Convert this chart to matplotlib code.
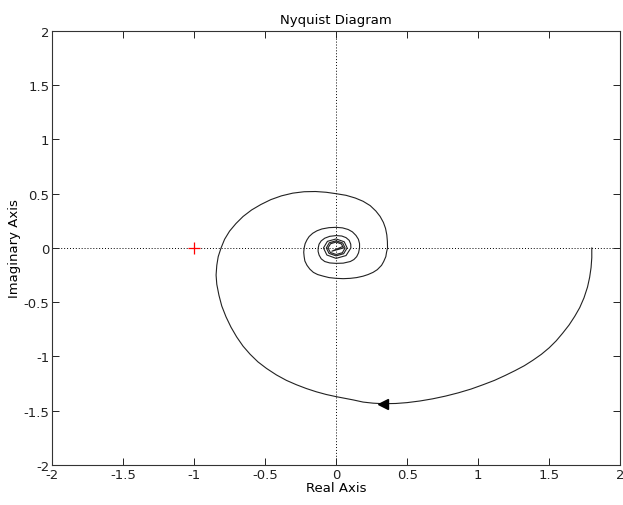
import matplotlib
matplotlib.use('Agg')
import matplotlib.pyplot as plt


# Nyquist curve, points (real, imaginary)
# outer sweep: from 1.8 on the real axis, down and round to the left
outer_re = [1.80, 1.80, 1.795, 1.785, 1.77, 1.745, 1.715, 1.68, 1.64, 1.595,
            1.55, 1.50, 1.445, 1.385, 1.325, 1.26, 1.19, 1.115, 1.035, 0.95,
            0.86, 0.77, 0.68, 0.59, 0.50, 0.42, 0.33, 0.26, 0.19, 0.12, 0.06,
            0.0, -0.07, -0.14, -0.21, -0.28, -0.35, -0.42, -0.49, -0.55, -0.605,
            -0.655, -0.70, -0.74, -0.775, -0.805, -0.825, -0.84, -0.845, -0.84,
            -0.83, -0.81, -0.785, -0.75, -0.705, -0.655, -0.595, -0.53, -0.46,
            -0.385, -0.305, -0.225, -0.145, -0.07, 0.0, 0.07, 0.135, 0.19, 0.24,
            0.28, 0.31, 0.333, 0.348, 0.357, 0.361, 0.362]
outer_im = [0.0, -0.09, -0.18, -0.27, -0.36, -0.46, -0.55, -0.63, -0.71, -0.785,
            -0.855, -0.92, -0.98, -1.035, -1.085, -1.13, -1.175, -1.22, -1.26,
            -1.30, -1.335, -1.365, -1.39, -1.41, -1.425, -1.433, -1.435, -1.43,
            -1.42, -1.40, -1.385, -1.37, -1.35, -1.325, -1.295, -1.26, -1.22,
            -1.17, -1.11, -1.05, -0.98, -0.905, -0.82, -0.73, -0.635, -0.535,
            -0.435, -0.335, -0.25, -0.16, -0.08, 0.0, 0.08, 0.155, 0.225, 0.29,
            0.35, 0.40, 0.445, 0.48, 0.505, 0.518, 0.52, 0.513, 0.50, 0.485, 0.46,
            0.43, 0.39, 0.34, 0.29, 0.235, 0.18, 0.12, 0.06, 0.0]

# second and third turns
mid_re = [0.355, 0.35, 0.335, 0.32, 0.29, 0.26, 0.225, 0.19, 0.145, 0.10, 0.05,
          0.0, -0.05, -0.09, -0.13, -0.16, -0.185, -0.205, -0.22, -0.225, -0.228,
          -0.225, -0.218, -0.205, -0.19, -0.165, -0.135, -0.10, -0.05, 0.0, 0.045,
          0.085, 0.115, 0.14, 0.157, 0.165, 0.165, 0.158, 0.145, 0.125, 0.10,
          0.05, 0.0, -0.045, -0.08, -0.105, -0.12, -0.127, -0.126, -0.12, -0.105,
          -0.08, -0.045, 0.0, 0.04, 0.07, 0.092, 0.103]
mid_im = [-0.04, -0.08, -0.125, -0.16, -0.20, -0.225, -0.245, -0.26, -0.273,
          -0.28, -0.283, -0.28, -0.273, -0.26, -0.245, -0.225, -0.195, -0.16,
          -0.12, -0.08, -0.04, 0.0, 0.04, 0.075, 0.105, 0.135, 0.158, 0.175,
          0.187, 0.19, 0.185, 0.17, 0.148, 0.115, 0.08, 0.04, 0.0, -0.045, -0.08,
          -0.107, -0.125, -0.14, -0.142, -0.138, -0.125, -0.10, -0.065, -0.03,
          0.0, 0.035, 0.065, 0.09, 0.107, 0.114, 0.11, 0.095, 0.07, 0.035]

# tight inner rings and the last segment into the origin
inner_re = [0.104, 0.07, 0.0, -0.065, -0.089, -0.061, 0.0, 0.057, 0.078, 0.053,
            0.0, -0.05, -0.069, -0.048, 0.0, 0.046, 0.063, 0.044, 0.0, -0.041,
            -0.057, -0.039, 0.0, 0.037, 0.052, -0.03, 0.04]
inner_im = [0.0, -0.07, -0.096, -0.065, 0.0, 0.061, 0.083, 0.057, 0.0, -0.053,
            -0.073, -0.05, 0.0, 0.048, 0.066, 0.046, 0.0, -0.044, -0.06, -0.041,
            0.0, 0.039, 0.054, 0.037, 0.0, -0.03, 0.01]

arrow_re = 0.33
arrow_im = -1.435
critical_pt = (-1, 0)

ticks = [-2, -1.5, -1, -0.5, 0, 0.5, 1, 1.5, 2]
tick_labels = ['-2', '-1.5', '-1', '-0.5', '0', '0.5', '1', '1.5', '2']


fig = plt.figure(figsize=(6.23, 5.06), dpi=100)
ax = fig.add_axes([0.0835, 0.079, 0.912, 0.858])

# zero lines
ax.axhline(0, color='k', lw=0.7, ls=(0, (1, 2)), zorder=1)
ax.axvline(0, color='k', lw=0.7, ls=(0, (1, 2)), zorder=1)

curve_re = outer_re + mid_re + inner_re
curve_im = outer_im + mid_im + inner_im
ax.plot(curve_re, curve_im, color='#222222', lw=0.8, zorder=2)
ax.plot(arrow_re, arrow_im, marker='<', color='k', markersize=7, zorder=3)
ax.plot(*critical_pt, marker='+', color='r', markersize=9, mew=0.9, zorder=3)

ax.set_xlim(-2, 2)
ax.set_ylim(-2, 2)
ax.set_xticks(ticks)
ax.set_xticklabels(tick_labels)
ax.set_yticks(ticks)
ax.set_yticklabels(tick_labels)
ax.tick_params(direction='in', top=True, right=True, labelsize=9.5, length=5,
               width=0.7, pad=2, colors='#222222')
for sp in ax.spines.values():
    sp.set_linewidth(0.8)
    sp.set_color('#333333')

ax.set_title('Nyquist Diagram', fontsize=9.5, pad=6)
ax.set_xlabel('Real Axis', fontsize=9.5, labelpad=0)
ax.set_ylabel('Imaginary Axis', fontsize=9.5, labelpad=2)

fig.savefig('out.png', dpi=100)
